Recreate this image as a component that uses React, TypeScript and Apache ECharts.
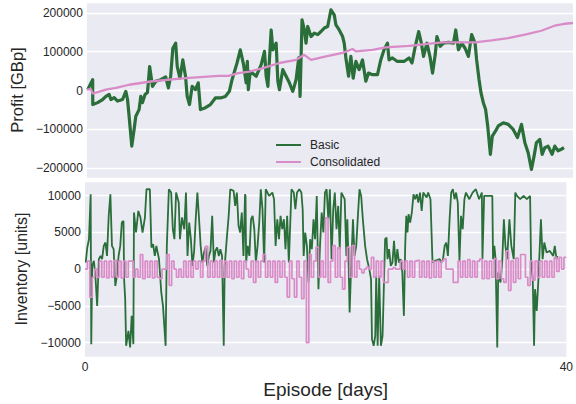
import React, { useEffect, useRef } from "react";
import * as echarts from "echarts";

// Profit [GBp] vs episode day — Basic strategy
const profitBasic: [number, number][] = [
  [0.06, 2500], [0.47, 28000], [0.48, -36000], [0.88, -31000], [1.29, -23000], [1.56, -15000],
  [1.83, -10000], [1.97, -23000], [2.24, -18000], [2.52, -27000], [2.93, -23000], [3.2, -2000],
  [3.34, -23000], [3.47, -66000], [3.69, -143000], [3.88, -100000], [4.02, -66000], [4.29, -49000],
  [4.43, -15000], [4.57, -31000], [4.78, -10000], [4.98, -5000], [5.16, 62000], [5.39, 11000],
  [5.66, 24000], [6.07, 28000], [6.48, 35000], [6.7, 7000], [6.89, 37000], [7.07, 109000],
  [7.3, 122000], [7.43, 62000], [7.65, 32000], [7.89, 79000], [8.11, 37000], [8.25, -15000],
  [8.44, -36000], [8.66, 11000], [8.93, 2500], [9.16, 20000], [9.34, -49000], [9.75, -44000],
  [10.16, -36000], [10.57, -19000], [10.98, -19000], [11.39, -15000], [11.72, -2000], [11.94, 28000],
  [12.35, 71000], [12.62, 105000], [12.89, 67000], [13.1, 20000], [13.2, 75000], [13.28, 2500],
  [13.44, 49000], [13.93, 37000], [14.34, 67000], [14.61, 101000], [14.75, 37000], [14.89, 11000],
  [15.16, 156000], [15.3, 105000], [15.57, 122000], [15.71, 24000], [15.84, 2500], [16.12, 54000],
  [16.39, 37000], [16.66, 20000], [16.94, -2000], [17.21, 28000], [17.43, 84000], [17.54, -15000],
  [17.7, 182000], [17.89, 156000], [18.03, 122000], [18.17, 165000], [18.44, 139000], [18.71, 148000],
  [18.99, 144000], [19.26, 152000], [19.53, 161000], [19.81, 165000], [20.08, 208000], [20.35, 195000],
  [20.49, 169000], [20.76, 156000], [21.04, 139000], [21.17, 122000], [21.31, 84000], [21.53, 37000],
  [21.72, 88000], [21.91, 32000], [22.13, 75000], [22.4, 54000], [22.68, 79000], [22.95, 24000],
  [23.17, 45000], [23.5, 41000], [23.91, 41000], [24.18, 79000], [24.45, 105000], [24.73, 122000],
  [24.86, 79000], [25.14, 84000], [25.55, 75000], [26.09, 75000], [26.5, 84000], [26.75, 71000],
  [27.02, 114000], [27.3, 152000], [27.52, 122000], [27.7, 88000], [27.98, 122000], [28.25, 84000],
  [28.44, 45000], [28.66, 92000], [28.8, 139000], [29.07, 114000], [29.34, 122000], [29.75, 124000],
  [30.16, 122000], [30.35, 156000], [30.57, 105000], [30.84, 122000], [31.12, 109000], [31.39, 88000],
  [31.66, 144000], [31.94, 122000], [32.07, 79000], [32.27, 28000], [32.43, -6000], [32.62, -31000],
  [32.81, -49000], [32.98, -91000], [33.2, -164000], [33.36, -117000], [33.63, -104000], [33.85, -91000],
  [34.26, -83000], [34.67, -87000], [35.08, -100000], [35.43, -121000], [35.76, -87000], [36.04, -134000],
  [36.31, -160000], [36.58, -203000], [36.8, -168000], [36.99, -134000], [37.27, -126000], [37.46, -164000],
  [37.68, -147000], [37.95, -143000], [38.28, -164000], [38.5, -143000], [38.77, -155000], [39.04, -151000],
  [39.26, -147000],
];

// Profit [GBp] — Consolidated strategy
const profitConsolidated: [number, number][] = [
  [0, 2500], [0.33, 4000], [0.47, -8000], [1.56, 2500], [2.38, 7000], [3.47, 15000],
  [5.39, 24000], [8.11, 32000], [10.82, 38000], [11.64, 38000], [12.46, 45000], [13.36, 49000],
  [14.48, 58000], [15.84, 71000], [17.21, 79000], [17.89, 92000], [18.44, 79000], [19.67, 88000],
  [21.04, 97000], [21.86, 107000], [22.13, 101000], [23.5, 105000], [24.59, 111000], [26.5, 115000],
  [29.2, 124000], [31.94, 124000], [33.3, 129000], [34.67, 135000], [36.04, 144000], [37.39, 154000],
  [38.48, 167000], [39.3, 172000], [40, 174000],
];

// Inventory [units] — Basic strategy
const inventoryBasic: [number, number][] = [
  [0.06, 900], [0.19, 2950], [0.33, 4080], [0.47, 10200], [0.52, -10200], [0.6, 450], [0.74, 1130],
  [0.88, -1360], [1.01, -5000], [1.15, 1360], [1.29, 1800], [1.42, 1360], [1.56, 3170], [1.7, 3630],
  [1.83, 1800], [1.97, 7250], [2.11, 10200], [2.24, 3170], [2.38, 2720], [2.52, -2270], [2.65, -900],
  [2.79, 1800], [2.93, 3170], [3.06, 6350], [3.2, 6570], [3.25, -1360], [3.34, -4080], [3.42, -10430],
  [3.61, -8390], [3.75, -10650], [3.88, -6350], [4.02, -10200], [4.07, 7710], [4.24, 4990], [4.43, 7930],
  [4.61, 7030], [4.78, 4990], [4.98, 7030], [5.11, 10880], [5.39, 10880], [5.52, 2950], [5.66, 3400],
  [5.8, 1800], [5.93, 3170], [6.15, 1360], [6.34, -3170], [6.48, -5000], [6.7, -10430], [6.8, 3170],
  [6.97, 10880], [7.16, 10430], [7.3, 5440], [7.43, 4080], [7.57, 10430], [7.79, 9070], [7.89, 4080],
  [8.06, 7030], [8.25, 5440], [8.39, 10430], [8.52, 1800], [8.66, 6350], [8.8, 4080], [8.93, 450],
  [9.07, 2490], [9.2, 6800], [9.34, 10430], [9.48, 6800], [9.61, 3170], [9.75, 900], [9.89, 2270],
  [10.02, 2950], [10.16, 450], [10.3, 1800], [10.43, 2490], [10.57, 7250], [10.71, 900], [10.84, 2490],
  [10.98, 2950], [11.12, 1800], [11.25, 2720], [11.39, 1800], [11.53, -10430], [11.61, 450], [11.8, 4530],
  [11.94, 7250], [12.07, 10880], [12.35, 10650], [12.48, 8610], [12.62, 10430], [12.76, 5890], [12.89, 4990],
  [13.03, 7710], [13.17, 1800], [13.3, 10200], [13.34, 9970], [13.39, 900], [13.52, 3170], [13.66, 1800],
  [13.8, 6800], [13.93, 7250], [14.07, 5440], [14.2, 900], [14.34, 3170], [14.48, 6350], [14.61, 10880],
  [14.75, 8160], [14.89, 900], [15.02, 10880], [15.3, 9970], [15.57, 10430], [15.71, 9520], [15.84, 3170],
  [15.98, 6800], [16.12, 4080], [16.25, 7250], [16.39, 5440], [16.53, 6800], [16.66, 2720], [16.8, 7250],
  [16.94, 900], [17.16, 10880], [17.35, 10430], [17.48, 8160], [17.62, 10430], [17.81, 10880], [17.98, 10430],
  [18.09, 8160], [18.17, 1800], [18.3, 4990], [18.44, 3170], [18.58, -1810], [18.71, 4080], [18.85, 2720],
  [18.99, 6800], [19.12, 4080], [19.26, 9970], [19.4, -2720], [19.53, 3170], [19.67, 7710], [19.81, 4990],
  [19.94, 10430], [20.08, 10880], [20.22, 6800], [20.35, 10880], [20.49, 1360], [20.63, 8160], [20.76, 10430],
  [20.9, 5440], [21.04, 8610], [21.17, 2720], [21.31, 10430], [21.58, 9520], [21.72, 1800], [21.8, 6800],
  [21.91, 450], [21.99, -5890], [22.13, 900], [22.27, 6800], [22.4, 1800], [22.54, 3170], [22.68, 7250],
  [22.81, 10880], [22.95, 9970], [23.09, 6800], [23.28, 3170], [23.44, 1360], [23.63, 0], [23.77, -1360],
  [23.85, -9520], [23.99, -10430], [24.12, -9070], [24.2, -900], [24.32, -10430], [24.45, -900], [24.59, -10430],
  [24.73, -9070], [24.86, -900], [24.94, 4080], [25.06, 4310], [25.14, 1360], [25.27, 2720], [25.41, 450],
  [25.55, 900], [25.68, 3850], [25.82, 450], [25.96, 2720], [26.09, 900], [26.23, 1360], [26.37, -450],
  [26.5, -6350], [26.61, 3170], [26.7, 7250], [26.8, 4990], [26.89, 7480], [27.02, 6350], [27.16, 7710],
  [27.3, 10200], [27.43, 9520], [27.57, 10200], [27.7, 9070], [27.84, 10430], [27.98, 7930], [28.11, 10430],
  [28.39, 9750], [28.52, 10430], [28.71, 9520], [28.88, 900], [29.07, 1130], [29.48, 1360], [29.61, 900],
  [29.75, 1360], [29.89, 3170], [30.02, 3630], [30.16, 1800], [30.3, 6800], [30.43, 10430], [30.57, 10880],
  [30.71, 9520], [30.84, 10430], [30.98, 9070], [31.12, 1130], [31.25, 7250], [31.39, 5440], [31.53, 9520],
  [31.66, 10430], [31.94, 9520], [32.21, 10430], [32.48, 10880], [32.75, 9520], [32.98, 10430], [33.03, 1360],
  [33.17, 9970], [33.85, 9970], [33.91, 1360], [34.02, 3170], [34.12, 1360], [34.26, -10650], [34.34, -450],
  [34.53, -1810], [34.67, 900], [34.81, 6800], [34.94, 3170], [35.08, 1360], [35.27, 6800], [35.43, 3170],
  [35.63, 1360], [35.76, 10430], [35.9, 9970], [36.17, 9520], [36.45, 9970], [36.72, 9520], [36.99, 9970],
  [37.07, 900], [37.21, -1360], [37.32, -10430], [37.4, -2720], [37.54, -5670], [37.68, -1360], [37.89, 6800],
  [38.03, 1360], [38.17, 3630], [38.36, 2270], [38.63, 2490], [38.91, 1800], [39.04, 3170], [39.18, 1360],
  [39.26, 1800],
];

// Inventory [units] — Consolidated strategy, sampled every 0.2 days from day 0
const inventoryStep = 0.2;
const inventoryConsolidated: number[] = [
  0, 1100, -3800, -1100, 0, -1100, 1100, -1100, 1100, -1200,
  1100, -1100, 1200, -1100, 1100, -1200, 1100, -1100, 1100, 1100,
  -1100, 0, -1100, 2000, -1300, 1100, -1100, 1100, -1200, 1100,
  -1100, -1300, 0, 0, 2000, -2200, 1100, 0, -1100, 0,
  -1100, 1100, -1100, 1100, -1100, 1100, 0, 1100, -1100, 1100,
  3100, -1100, 1100, -1100, 1100, -1100, 1200, -1100, 1100, -1100,
  1100, -1300, 1100, -1100, 1100, -1300, 1100, 0, -1100, 1100,
  -1800, 1100, -1100, 1100, 2000, -1100, 1100, -1100, 1100, -1800,
  1100, -1100, 1100, -1100, -3800, 1100, -1300, -3800, 1100, -1100,
  -4000, 1100, -10000, 2000, -1100, 1100, 3000, -1100, 1100, -1100,
  7000, -1800, 1100, 3200, -1100, 2900, -1100, -2700, 1100, 3000,
  -1100, 3200, -1100, 1100, 0, -500, 0, 300, 0, 1600,
  -1100, 1100, -1100, 1100, -1800, -1800, 0, 0, 200, 0,
  0, 1100, 0, 1100, -1100, 1100, -1100, 1100, 1200, -1100,
  1100, -1100, 1100, -1200, 1100, -1100, 1100, -1100, 1100, 1400,
  0, 0, 0, -1800, -1800, 1100, -1100, 1100, -1100, 1300,
  -1100, 1100, -1100, 1100, 1400, -1300, 1100, -1300, 1100, -1100,
  1400, -1300, 1100, -1300, -1800, 2500, -2900, 1100, -1800, 1500,
  -1300, 2000, 2000, -1100, -2200, 1100, -1500, 1100, -1100, 1100,
  -1100, 1100, -1100, 1100, -1100, 1600, -300, 1600, 0, 1600,
  1600,
];

const xTicks = [0, 40];
const seriesNames = ["Basic", "Consolidated"];

const GREEN = "#2a6e3a";
const PINK = "#d98cc8";
const FONT = "'Liberation Sans', Arial, sans-serif";
const TXT = "#262626";

const minus = (s: string) => s.replace("-", "\u2212");

export default function App() {
  const ref = useRef<HTMLDivElement>(null);
  useEffect(() => {
    if (!ref.current) return;
    const chart = echarts.init(ref.current, undefined, { renderer: "svg" });
    const invCons = inventoryConsolidated.map((v, i) => [+(i * inventoryStep).toFixed(2), v]);
    const yLabel = (step: number) => (v: number) =>
      Math.abs(v % step) < 1e-6 ? minus(String(v)) : "";
    const gridBase = { left: 85, right: 3, height: 176, show: true, backgroundColor: "#EAEAF2", borderWidth: 0 };
    const xBase = {
      type: "value",
      min: xTicks[0],
      max: xTicks[1],
      interval: xTicks[1] - xTicks[0],
      axisLine: { show: false },
      axisTick: { show: false },
      splitLine: { show: false },
    };
    const yBase = {
      type: "value",
      axisLine: { show: false },
      axisTick: { show: false },
      splitLine: { show: true, lineStyle: { color: "#ffffff", width: 1.3 } },
      nameLocation: "middle",
    };
    chart.setOption({
      animation: false,
      backgroundColor: "#ffffff",
      textStyle: { fontFamily: FONT },
      grid: [
        { ...gridBase, top: 2 },
        { ...gridBase, top: 181 },
      ],
      legend: {
        data: seriesNames.map((n) => ({ name: n, icon: "rect" })),
        orient: "vertical",
        left: 271,
        top: 133,
        itemWidth: 25,
        itemHeight: 2,
        itemGap: 3,
        textStyle: { fontSize: 12, color: TXT, fontFamily: FONT, padding: [0, 0, 0, 4], lineHeight: 14 },
      },
      xAxis: [
        { ...xBase, gridIndex: 0, axisLabel: { show: false } },
        {
          ...xBase,
          gridIndex: 1,
          axisLabel: {
            show: true, color: TXT, fontSize: 12, margin: 4, fontFamily: FONT,
            alignMinLabel: "center", alignMaxLabel: "center",
          },
          name: "Episode [days]",
          nameLocation: "middle",
          nameGap: 23,
          nameTextStyle: { fontSize: 19, color: TXT, fontFamily: FONT },
        },
      ],
      yAxis: [
        {
          ...yBase,
          gridIndex: 0,
          min: -225000,
          max: 228000,
          axisLabel: { color: TXT, fontSize: 12, margin: 4, fontFamily: FONT, formatter: yLabel(100000) },
          name: "Profit [GBp]",
          nameGap: 59,
          nameTextStyle: { fontSize: 16.5, color: TXT, fontFamily: FONT },
        },
        {
          ...yBase,
          gridIndex: 1,
          min: -11950,
          max: 12000,
          axisLabel: { color: TXT, fontSize: 12, margin: 4, fontFamily: FONT, formatter: yLabel(5000) },
          name: "Inventory [units]",
          nameGap: 52,
          nameTextStyle: { fontSize: 16, color: TXT, fontFamily: FONT },
        },
      ],
      series: [
        {
          name: seriesNames[0], type: "line", xAxisIndex: 0, yAxisIndex: 0, data: profitBasic,
          symbol: "none", showSymbol: false, lineStyle: { color: GREEN, width: 3.2, join: "round" }, itemStyle: { color: GREEN }, z: 2,
        },
        {
          name: seriesNames[1], type: "line", xAxisIndex: 0, yAxisIndex: 0, data: profitConsolidated,
          symbol: "none", showSymbol: false, lineStyle: { color: PINK, width: 2.3 }, itemStyle: { color: PINK }, z: 3,
        },
        {
          name: seriesNames[0], type: "line", xAxisIndex: 1, yAxisIndex: 1, data: inventoryBasic,
          symbol: "none", showSymbol: false, lineStyle: { color: GREEN, width: 1.8 }, itemStyle: { color: GREEN }, z: 2,
        },
        {
          name: seriesNames[1], type: "line", xAxisIndex: 1, yAxisIndex: 1, data: invCons, step: "end",
          symbol: "none", showSymbol: false, lineStyle: { color: PINK, width: 1.7 }, itemStyle: { color: PINK }, z: 3,
        },
      ],
    });
    return () => chart.dispose();
  }, []);
  return <div ref={ref} style={{ position: "absolute", left: 0, top: 0, width: 576, height: 404 }} />;
}
